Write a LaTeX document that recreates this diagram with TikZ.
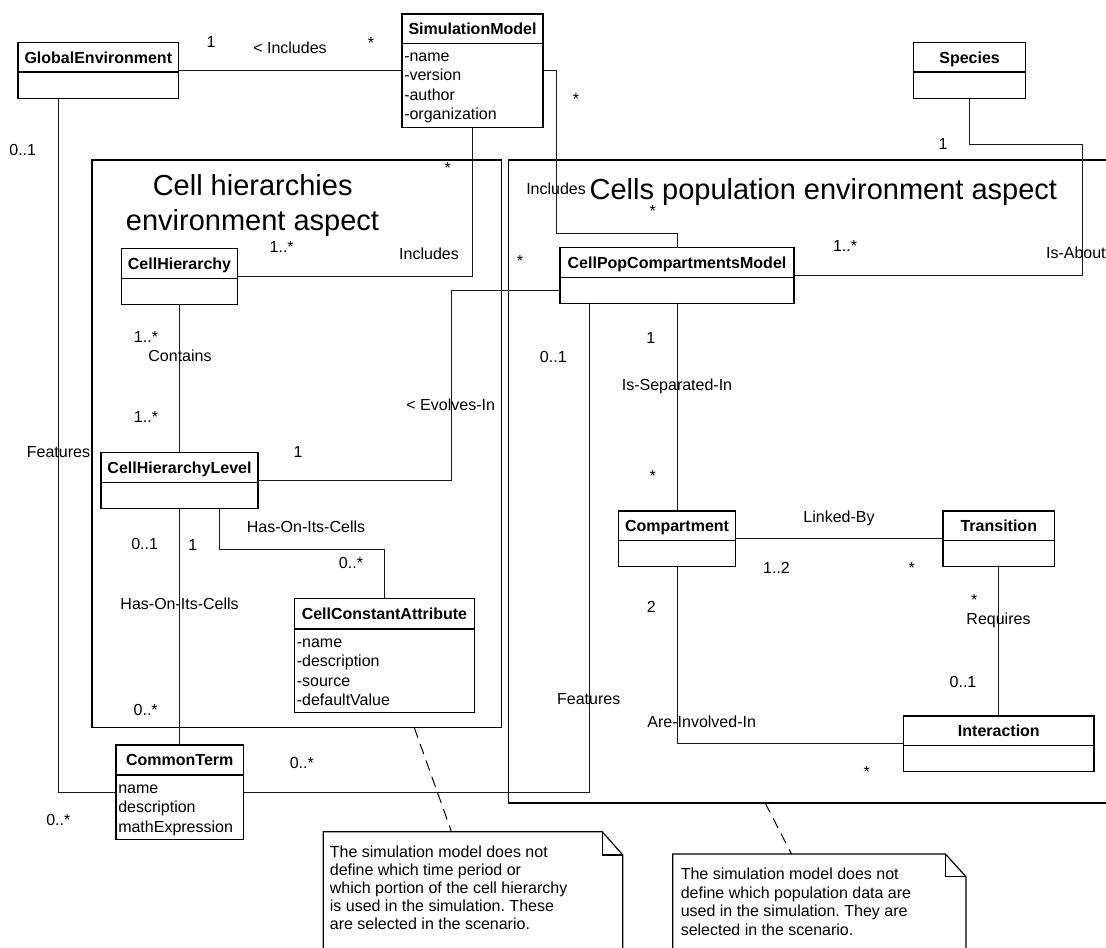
\documentclass[tikz,border=0pt]{standalone}
\usepackage{fontspec}
\setmainfont{Liberation Sans}
\usetikzlibrary{calc}
\frenchspacing

% class box: name, x, y (top left), width, height, header height, title
\newcommand{\umlclass}[7]{%
  \node[classbox, anchor=north west, minimum width={#4*0.75pt}, minimum height={#5*0.75pt}] (#1) at (#2,#3) {};
  \draw[divider] ($(#1.north west)+(0,#6)$) -- ($(#1.north east)+(0,#6)$);
  \node[classname] (#1-title) at ($(#1.north)+(0,#6/2)$) {#7};
}
% attribute list of a class: name, header height, comma separated entries
\newcommand{\umlattrs}[3]{%
  \foreach \t [count=\i] in {#3} {\node[attr] at ($(#1.north west)+(2,{#2+12.3+19.5*(\i-1)})$) {\t};}
}

\begin{document}
\begin{tikzpicture}[x=0.75pt,y=-0.75pt,
  classbox/.style={draw=black, line width=1.1pt, rectangle, inner sep=0pt, outer sep=0pt},
  divider/.style={draw=black, line width=1.1pt},
  classname/.style={font=\fontsize{12}{14}\selectfont\bfseries, inner sep=0pt, text height=8.6pt, text depth=0pt},
  attr/.style={font=\fontsize{12}{14}\selectfont, inner sep=0pt, text height=8.6pt, text depth=0pt, anchor=west},
  lbl/.style={font=\fontsize{12}{14}\selectfont, inner sep=0pt, text height=8.6pt, text depth=0pt},
  conn/.style={draw=black!90, line width=0.75pt},
  pkg/.style={draw=black, line width=1.1pt, rectangle, inner sep=0pt, outer sep=0pt},
  pkgtitle/.style={font=\fontsize{21.75}{26}\selectfont, inner sep=0pt, text height=15.6pt, text depth=0pt},
  notebox/.style={draw=black, line width=0.9pt},
  notetext/.style={lbl, anchor=west},
  noteline/.style={draw=black, line width=0.75pt, dash pattern=on 8pt off 5pt},
]
\useasboundingbox (0,0) rectangle (1106,947);
\clip (0,0) rectangle (1106,947);
\fill[white] (0,0) rectangle (1106,947);

% aspect containers
\node[pkg, anchor=north west, minimum width={409.7*0.75pt}, minimum height={567.7*0.75pt}] (chpkg) at (92,160) {};
\node[pkg, anchor=north west, minimum width={620*0.75pt}, minimum height={643*0.75pt}] (poppkg) at (508.5,160) {};
\node[pkgtitle] (chtitle1) at (252.7,185) {Cell hierarchies};
\node[pkgtitle] (chtitle2) at (252.5,220) {environment aspect};
\node[pkgtitle] (poptitle) at (823.4,189.3) {Cells population environment aspect};

% classes
\umlclass{ge}{18}{42.7}{160.6}{56}{29.3}{GlobalEnvironment}
\umlclass{sm}{402}{14}{141}{113.3}{29.3}{SimulationModel}
\umlattrs{sm}{29.3}{-name,-version,-author,-organization}
\umlclass{species}{913.6}{42.7}{112}{56}{29.3}{Species}
\umlclass{ch}{121.7}{248.3}{115.6}{56}{30}{CellHierarchy}
\umlclass{chl}{101}{452.7}{157}{55.6}{30}{CellHierarchyLevel}
\umlclass{cca}{294.6}{598.3}{179.7}{114}{30.7}{CellConstantAttribute}
\umlattrs{cca}{30.7}{-name,-description,-source,-defaultValue}
\umlclass{ct}{116}{745}{127.6}{94.3}{30}{CommonTerm}
\umlattrs{ct}{30}{name,description,mathExpression}
\umlclass{cpm}{560}{247.7}{234}{55.6}{29.6}{CellPopCompartmentsModel}
\umlclass{comp}{618.7}{511}{116.6}{55.7}{29.7}{Compartment}
\umlclass{trans}{943.2}{511}{111.2}{55.7}{29.7}{Transition}
\umlclass{inter}{903.5}{716}{190.7}{55.7}{29.7}{Interaction}

% associations
\draw[conn] (ge.east) -- (ge.east -| sm.west);
\draw[conn] (ge.east -| sm.east) -| (556,233.3) -| (cpm.north);
\draw[conn] (sm.south) |- (ch.east);
\draw[conn] (58.7,0 |- ge.south) |- (ct.west);
\draw[conn] (ct.east) -| (589.7,0 |- cpm.south);
\draw[conn] (ch.south) -- (ch.south |- chl.north);
\draw[conn] (chl.south) -- (chl.south |- ct.north);
\draw[conn] (chl.east) -| (451,290) -- (cpm.west |- 0,290);
\draw[conn] (219,0 |- chl.south) |- (cca.north |- 0,549) -- (cca.north);
\draw[conn] (cpm.south) -- (cpm.south |- comp.north);
\draw[conn] (comp.east) -- (comp.east -| trans.west);
\draw[conn] (trans.south) -- (trans.south |- inter.north);
\draw[conn] (comp.south) |- (inter.west);
\draw[conn] (cpm.east) -| (1082.7,144.5) -| (species.south);

% association labels and multiplicities
\node[lbl] (l1) at (211,42) {1};
\node[lbl] (l2) at (290,48) {< Includes};
\node[lbl] (l3) at (371,43) {*};
\node[lbl] (l4) at (576,99) {*};
\node[lbl] (l5) at (943,144) {1};
\node[lbl] (l6) at (22.7,150) {0..1};
\node[lbl] (l7) at (447.7,168) {*};
\node[lbl] (l8) at (281.7,246.7) {1..*};
\node[lbl] (l9) at (429,254) {Includes};
\node[lbl, anchor=west] (l10) at (526,189) {Includes};
\node[lbl] (l11) at (652.7,210.5) {*};
\node[lbl] (l12) at (520,260.7) {*};
\node[lbl] (l13) at (845,246) {1..*};
\node[lbl, anchor=west] (l14) at (1045.8,252.3) {Is-About};
\node[lbl] (l15) at (146,336.7) {1..*};
\node[lbl] (l16) at (180,355.7) {Contains};
\node[lbl] (l17) at (146,417) {1..*};
\node[lbl] (l18) at (298,451.7) {1};
\node[lbl] (l19) at (450.7,404.3) {< Evolves-In};
\node[lbl] (l20) at (58.5,452) {Features};
\node[lbl] (l21) at (650.8,337.7) {1};
\node[lbl] (l22) at (553.3,356.7) {0..1};
\node[lbl] (l23) at (677,384.3) {Is-Separated-In};
\node[lbl] (l24) at (652.7,476) {*};
\node[lbl] (l25) at (306,526.7) {Has-On-Its-Cells};
\node[lbl] (l26) at (144.6,543.3) {0..1};
\node[lbl] (l27) at (192.9,544.3) {1};
\node[lbl] (l28) at (351,562.3) {0..*};
\node[lbl] (l29) at (179.6,604) {Has-On-Its-Cells};
\node[lbl] (l30) at (145.7,709.3) {0..*};
\node[lbl] (l31) at (301.8,762.7) {0..*};
\node[lbl] (l32) at (58.3,820) {0..*};
\node[lbl] (l33) at (839,516.7) {Linked-By};
\node[lbl] (l34) at (776.5,567.3) {1..2};
\node[lbl] (l35) at (911.8,568) {*};
\node[lbl] (l36) at (974.3,600) {*};
\node[lbl] (l37) at (998.5,618.3) {Requires};
\node[lbl] (l38) at (963,681.7) {0..1};
\node[lbl] (l39) at (651.2,606.7) {2};
\node[lbl] (l40) at (588.7,698.3) {Features};
\node[lbl] (l41) at (701.7,721.7) {Are-Involved-In};
\node[lbl] (l42) at (866.7,772) {*};

% notes
\coordinate (n1top) at (451.5,831.7);
\coordinate (n2top) at (791.5,854);
\draw[noteline] (414.3,0 |- chpkg.south) -- (n1top);
\draw[noteline] (765.2,0 |- poppkg.south) -- (n2top);
\draw[notebox] (323.2,952) -- (323.2,831.7) -- (602.2,831.7) -- (622.8,855) -- (622.8,952);
\draw[notebox] (602.2,831.7) -- (602.2,855) -- (622.8,855);
\draw[notebox] (672.8,952) -- (672.8,854) -- (945.4,854) -- (966,876.7) -- (966,952);
\draw[notebox] (945.4,854) -- (945.4,876.7) -- (966,876.7);
\node[notetext] (n1a) at (329.6,851.7) {The simulation model does not};
\node[notetext] (n1b) at (329.6,869.8) {define which time period or};
\node[notetext] (n1c) at (329.6,887.9) {which portion of the cell hierarchy};
\node[notetext] (n1d) at (329.6,906) {is used in the simulation. These};
\node[notetext] (n1e) at (329.6,924.1) {are selected in the scenario.};
\node[notetext] (n2a) at (680.5,874) {The simulation model does not};
\node[notetext] (n2b) at (680.5,892.5) {define which population data are};
\node[notetext] (n2c) at (680.5,911) {used in the simulation. They are};
\node[notetext] (n2d) at (680.5,929.5) {selected in the scenario.};
\end{tikzpicture}
\end{document}
